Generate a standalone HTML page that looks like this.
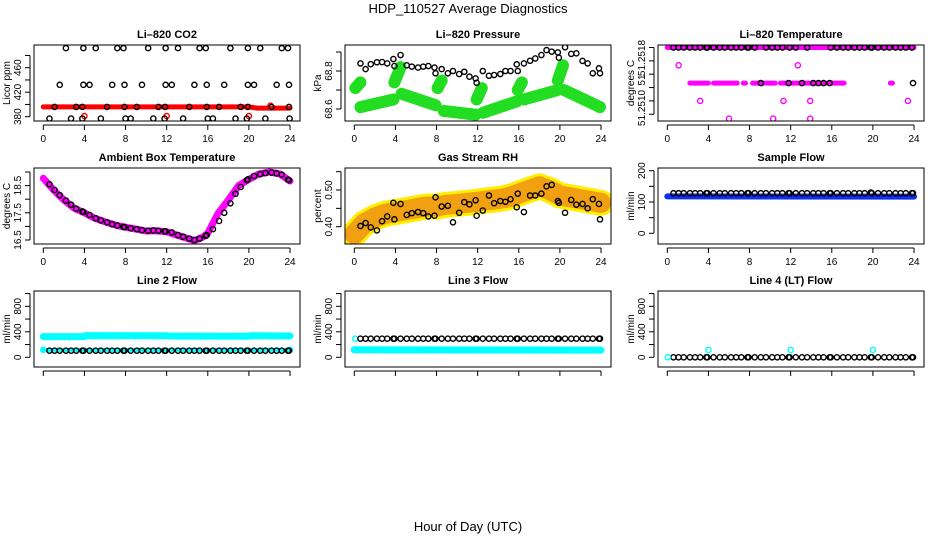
<!DOCTYPE html>
<html><head><meta charset="utf-8"><style>
html,body{margin:0;padding:0;background:#fff}
svg{display:block;font-family:"Liberation Sans",sans-serif}
</style></head><body>
<svg id="c" width="936" height="540" viewBox="0 0 936 540" xmlns="http://www.w3.org/2000/svg">
<text x="468" y="13" text-anchor="middle" font-size="13">HDP_110527  Average Diagnostics</text>
<text x="468" y="531" text-anchor="middle" font-size="13">Hour of Day (UTC)</text>
</svg>
<script>
// ---- shared data ----
const xTicks = [0,4,8,12,16,20,24];
const tHalf = [0.6,1.1,1.6,2.2,2.7,3.2,3.8,3.9,4.5,5.1,5.6,6.2,6.7,7.2,7.8,7.9,8.5,9.1,9.6,10.2,10.7,11.2,11.8,11.9,12.5,13.1,13.6,14.2,14.7,15.2,15.8,15.9,16.5,17.1,17.6,18.2,18.7,19.2,19.8,19.9,20.5,21.1,21.6,22.2,22.7,23.2,23.8,23.9];
// CO2
const co2Black = [377,396,432,492,377,396,396,492,432,492,377,396,432,492,492,432,377,396,432,492,377,396,377,492,432,492,377,396,432,492,492,432,377,396,432,492,377,396,377,492,432,492,377,396,432,492,492,432];
const co2ExtraH = [3.9,3.8,7.9,8.0,11.85,11.9,15.9,16.0,19.9,19.9,23.9,23.96];
const co2ExtraV = [432,377,396,377,396,432,396,377,432,396,396,377];
const co2BandH = [0,4,8,12,16,20,20.8,24];
const co2BandV = [396,396,396,396,396,396,394,394];
const co2RedH = [4.0,12.0,20.0,22.1];
const co2RedV = [381,381,381,398];
// Pressure
const presBlack = [68.84,68.81,68.836,68.846,68.847,68.84,68.863,68.826,68.884,68.83,68.823,68.818,68.823,68.826,68.818,68.788,68.81,68.788,68.8,68.784,68.796,68.77,68.761,68.738,68.8,68.775,68.779,68.784,68.8,68.8,68.835,68.8,68.84,68.854,68.866,68.884,68.91,68.902,68.898,68.87,68.925,68.89,68.893,68.853,68.84,68.788,68.814,68.788];
const gStart = [0.1,0.6,3.9,4.6,8.1,8.7,11.9,12.5,15.9,16.5,19.8,20.4];
const gEnd   = [0.6,3.8,4.5,7.9,8.5,11.8,12.4,15.8,16.3,19.8,20.3,23.9];
const gV0    = [68.71,68.61,68.74,68.68,68.71,68.59,68.65,68.58,68.70,68.65,68.75,68.70];
const gV1    = [68.74,68.65,68.82,68.62,68.75,68.57,68.71,68.64,68.74,68.70,68.83,68.61];
// Li-820 temperature
const liTopH = [0,24];
const liTopV = [51.2518,51.2518];
const liMagStart = [2.2,4.5,7.4,8.3,9.7,11.0,21.7];
const liMagEnd   = [4.0,6.8,7.6,9.5,10.5,17.2,21.9];
const liMagLevel = 51.2514;
const liBlack = [51.2518,51.2518,51.2518,51.2518,51.2518,51.2518,51.2518,51.2518,51.2518,51.2518,51.2518,51.2518,51.2518,51.2518,51.2518,51.2518,51.2518,51.2514,51.2518,51.2518,51.2518,51.2518,51.2514,51.2518,51.2518,51.2514,51.2518,51.2514,51.2514,51.2514,51.2514,51.2518,51.2518,51.2518,51.2518,51.2518,51.2518,51.2518,51.2518,51.2518,51.2518,51.2518,51.2518,51.2518,51.2518,51.2518,51.2518,51.2514];
const liPinkH = [1.1,12.7,3.2,11.3,13.9,23.4,6.0,10.3,13.9];
const liPinkV = [51.2516,51.2516,51.2512,51.2512,51.2512,51.2512,51.2510,51.2510,51.2510];
// Ambient
const ambH = [0,1,2,3,4,5,6,7,8,9,10,11,12,13,14,14.7,15.5,16,17,18,19,20,21,22,23,24];
const ambV = [18.77,18.34,17.97,17.67,17.5,17.3,17.17,17.05,16.97,16.9,16.83,16.84,16.8,16.68,16.56,16.48,16.6,16.75,17.48,17.97,18.5,18.73,18.93,19.0,18.93,18.67];
const ambBlack = [18.55,18.34,18.15,17.95,17.8,17.65,17.55,17.53,17.42,17.3,17.22,17.15,17.08,17.03,16.98,16.97,16.93,16.9,16.86,16.84,16.85,16.84,16.82,16.82,16.78,16.68,16.62,16.55,16.5,16.55,16.65,16.68,16.9,17.2,17.5,17.85,18.2,18.45,18.7,18.73,18.85,18.92,18.96,18.98,18.95,18.9,18.72,18.7];
// RH
const rhBandH = [0,0.5,1,2,3,4,5,6,7,8,9,10,11,12,13,14,15,16,17,18,19,20,21,22,23,24];
const rhBandV = [0.38,0.395,0.41,0.425,0.435,0.44,0.445,0.45,0.455,0.455,0.46,0.462,0.465,0.468,0.472,0.475,0.48,0.49,0.5,0.51,0.5,0.485,0.48,0.475,0.47,0.465];
const rhBlack = [0.402,0.41,0.398,0.39,0.415,0.428,0.465,0.42,0.462,0.432,0.437,0.44,0.437,0.428,0.43,0.48,0.455,0.457,0.412,0.438,0.467,0.461,0.472,0.43,0.444,0.485,0.464,0.47,0.468,0.475,0.453,0.49,0.44,0.485,0.485,0.49,0.51,0.514,0.47,0.465,0.438,0.473,0.46,0.462,0.45,0.475,0.462,0.42];
// Sample flow
const sfBandH = [0,24];
const sfBandV = [118,117];
const sfBlack = [128,128,128,128,128,128,128,128,128,128,128,128,128,128,128,128,128,128,128,128,128,128,128,128,128,128,128,128,128,128,128,128,128,128,128,128,128,128,130,128,128,128,128,128,128,128,128,128];
// Line flows
const l2BandH = [0,4,4.1,12,12.1,20,20.1,24];
const l2BandV = [325,325,340,338,335,330,338,335];
const l2Black = [104,104,104,104,104,104,104,104,104,104,104,104,104,104,104,104,104,104,104,104,104,104,104,104,104,104,104,104,104,104,104,104,104,104,104,104,104,104,104,104,104,104,104,104,104,104,104,104];
const l2CyanH = [0,24];
const l2CyanV = [117,117];
const l3BandH = [0,24];
const l3BandV = [118,112];
const l3Black = [292,292,292,292,292,292,292,292,292,292,292,292,292,292,292,292,292,292,292,292,292,292,292,292,292,292,292,292,292,292,292,292,292,292,292,292,292,292,292,292,292,292,292,292,292,292,292,292];
const l3CyanH = [0.1];
const l3CyanV = [292];
const l4Black = [0,0,0,0,0,0,0,0,0,0,0,0,0,0,0,0,0,0,0,0,0,0,0,0,0,0,0,0,0,0,0,0,0,0,0,0,0,0,0,0,0,0,0,0,0,0,0,0];
const l4CyanH = [0.05,4.0,12.0,20.0];
const l4CyanV = [0,115,115,115];

const NS = "http://www.w3.org/2000/svg";
const svg = document.getElementById('c');
function mk(tag, attrs, parent){
  const e = document.createElementNS(NS, tag);
  for (const k in attrs) e.setAttribute(k, attrs[k]);
  (parent||svg).appendChild(e);
  return e;
}
const colLeft = [34,345,658], rowTop = [45,168,291], W = 266, H = 76;

function panel(col,row,name,title,ylab,yPix,yTicks,yLabels,yLabelPos){
  const L = colLeft[col], T = rowTop[row];
  const g = mk('g',{});
  
  
  const x = h => L + 9.3 + h * 10.28;
  const t = mk('text',{x:L+W/2,y:T-7,'text-anchor':'middle','font-size':11,'font-weight':'bold'},g);
  t.textContent = title;
  
  
  const clipId = 'clip'+col+row;
  const cp = mk('clipPath',{id:clipId},g);
  mk('rect',{x:L,y:T,width:W,height:H},cp);
  const plot = mk('g',{'clip-path':'url(#'+clipId+')'},g);
  
  
  const box = mk('rect',{x:L,y:T,width:W,height:H,fill:'none',stroke:'#000','stroke-width':1},g);
  
  
  const xa = mk('g',{},g);
  
  
  mk('line',{x1:x(0),x2:x(24),y1:T+H+4,y2:T+H+4,stroke:'#000'},xa);
  xTicks.forEach(v=>{
    mk('line',{x1:x(v),x2:x(v),y1:T+H+4,y2:T+H+9,stroke:'#000'},xa);
    if (row < 2){
      const tl = mk('text',{x:x(v),y:T+H+21,'text-anchor':'middle','font-size':10},xa);
      tl.textContent = v;
    }
  });
  const ya = mk('g',{},g);
  
  
  const ys = yTicks.map(yPix);
  mk('line',{x1:L-4,x2:L-4,y1:Math.min(...ys),y2:Math.max(...ys),stroke:'#000'},ya);
  ys.forEach(p=>mk('line',{x1:L-9,x2:L-4,y1:p,y2:p,stroke:'#000'},ya));
  yLabels.forEach((lb,i)=>{
    const py = yLabelPos[i];
    const tl = mk('text',{x:L-13,y:py,'text-anchor':'middle','font-size':10,transform:'rotate(-90 '+(L-13)+' '+py+')'},ya);
    tl.textContent = lb;
  });
  const yl = mk('text',{x:L-24,y:T+H/2,'text-anchor':'middle','font-size':10,transform:'rotate(-90 '+(L-24)+' '+(T+H/2)+')'},g);
  yl.textContent = ylab;
  
  
  return {plot,x,y:yPix};
}
function band(P,hs,vs,color,w,name){
  const pts = hs.map((h,i)=>P.x(h)+','+P.y(vs[i])).join(' ');
  const e = mk('polyline',{points:pts,fill:'none',stroke:color,'stroke-width':w,'stroke-linecap':'round','stroke-linejoin':'round'},P.plot);
  
  
}
function pts(P,hs,vs,color,name){
  hs.forEach((h,i)=>{
    const c = mk('circle',{cx:P.x(h),cy:P.y(vs[i]),r:2.6,fill:'none',stroke:color,'stroke-width':1.4},P.plot);
    
    
  });
}

let P = panel(0,0,'co2','Li\u2013820 CO2','Licor ppm', v=>116.7-(v-380)*0.6125,[380,400,420,440,460,480],['380','420','460'],[116.7,92.2,67.7]);
band(P,co2BandH,co2BandV,'#ff0000',5,'co2-band');
pts(P,co2RedH,co2RedV,'#ff0000','co2-red-point');
pts(P,tHalf,co2Black,'#000','co2-point');
pts(P,co2ExtraH,co2ExtraV,'#000','co2-point');

P = panel(1,0,'pressure','Li\u2013820 Pressure','kPa', v=>109-(v-68.6)*190,[68.6,68.7,68.8,68.9],['68.6','68.8'],[109,71]);
gStart.forEach((s,i)=>{
  band(P,[s,gEnd[i]],[gV0[i],gV1[i]],'#22dd22',12,'pressure-band');
});
pts(P,tHalf,presBlack,'#000','pressure-point');

P = panel(2,0,'li-temp','Li\u2013820 Temperature','degrees C', v=>47.5+(51.2518-v)*89000,[51.2518,51.25165,51.2515,51.25135,51.2512,51.25105],['51.2518','51','51.2510'],[58,80,108]);
band(P,liTopH,liTopV,'#ff00ff',5,'li-temp-band');
liMagStart.forEach((s,i)=>band(P,[s,liMagEnd[i]],[liMagLevel,liMagLevel],'#ff00ff',5,'li-temp-band'));
pts(P,liPinkH,liPinkV,'#ff00ff','li-temp-pink-point');
pts(P,tHalf,liBlack,'#000','li-temp-point');

P = panel(0,1,'ambient','Ambient Box Temperature','degrees C', v=>240-(v-16.5)*27.2,[16.5,17,17.5,18,18.5,19],['16.5','17.5','18.5'],[240,212.8,185.6]);
band(P,ambH,ambV,'#ff00ff',7,'ambient-band');
pts(P,tHalf,ambBlack,'#000','ambient-point');

P = panel(1,1,'rh','Gas Stream RH','percent', v=>226.7-(v-0.40)*367,[0.40,0.45,0.50,0.55],['0.40','0.50'],[226.7,190]);
band(P,rhBandH,rhBandV,'#ffee00',26,'rh-band-outer');
band(P,rhBandH,rhBandV,'#f0a010',20,'rh-band');
pts(P,tHalf,rhBlack,'#000','rh-point');

P = panel(2,1,'sample-flow','Sample Flow','ml/min', v=>233.3-v*0.313,[0,50,100,150,200],['0','100','200'],[233.3,202,170.7]);
band(P,sfBandH,sfBandV,'#1030e8',6,'sample-flow-band');
pts(P,tHalf,sfBlack,'#000','sample-flow-point');

const flowY = v=>357.3-v*0.06375;
P = panel(0,2,'line2','Line 2 Flow','ml/min', flowY,[0,200,400,600,800,1000],['0','400','800'],[357.3,331.8,306.3]);
band(P,l2BandH,l2BandV,'#00ffff',7,'line2-band');
pts(P,l2CyanH,l2CyanV,'#00ffff','line2-cyan-point');
band(P,l2CyanH,l2CyanV,'#00ffff',4,'line2-cyan-band');
pts(P,tHalf,l2Black,'#000','line2-point');

P = panel(1,2,'line3','Line 3 Flow','ml/min', flowY,[0,200,400,600,800,1000],['0','400','800'],[357.3,331.8,306.3]);
band(P,l3BandH,l3BandV,'#00ffff',7,'line3-band');
pts(P,l3CyanH,l3CyanV,'#00ffff','line3-cyan-point');
pts(P,tHalf,l3Black,'#000','line3-point');

P = panel(2,2,'line4','Line 4 (LT) Flow','ml/min', flowY,[0,200,400,600,800,1000],['0','400','800'],[357.3,331.8,306.3]);
pts(P,tHalf,l4Black,'#000','line4-point');
pts(P,l4CyanH,l4CyanV,'#00ffff','line4-cyan-point');
</script>
</body></html>
